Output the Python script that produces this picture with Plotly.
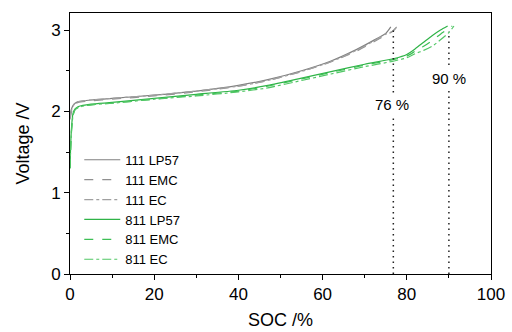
import plotly.graph_objects as go

soc_111_lp57 = [0, 0.3, 0.7, 1.2, 2, 5, 10, 20, 30, 40, 47, 55, 62, 68, 72, 75, 76.2]
v_111_lp57 = [1.95, 2.02, 2.07, 2.10, 2.12, 2.14, 2.16, 2.20, 2.25, 2.32, 2.39, 2.50, 2.62, 2.76, 2.87, 2.96, 3.04]
soc_111_emc = [0, 0.3, 0.7, 1.2, 2, 5, 10, 20, 30, 40, 47, 55, 62, 68, 72, 75, 76.5, 77.8]
v_111_emc = [1.90, 1.98, 2.05, 2.09, 2.11, 2.13, 2.15, 2.19, 2.24, 2.31, 2.38, 2.49, 2.61, 2.74, 2.85, 2.94, 2.98, 3.05]
soc_111_ec = [0, 0.3, 0.7, 1.2, 2, 5, 10, 20, 30, 40, 47, 55, 62, 68, 72, 75, 76.8, 77.6]
v_111_ec = [1.92, 2.0, 2.06, 2.10, 2.12, 2.14, 2.16, 2.20, 2.25, 2.31, 2.38, 2.49, 2.61, 2.75, 2.86, 2.95, 2.99, 3.04]

soc_811_lp57 = [0, 0.3, 0.7, 1.2, 2, 5, 10, 20, 30, 40, 47, 55, 62, 70, 77, 80, 82, 84, 86, 88, 89.7]
v_811_lp57 = [1.30, 1.75, 1.97, 2.03, 2.06, 2.09, 2.11, 2.16, 2.21, 2.26, 2.32, 2.41, 2.49, 2.58, 2.65, 2.70, 2.77, 2.85, 2.93, 3.00, 3.05]
soc_811_emc = [0, 0.3, 0.7, 1.2, 2, 5, 10, 20, 30, 40, 47, 55, 62, 70, 77, 80, 82, 84, 86, 88, 90, 90.8]
v_811_emc = [1.30, 1.72, 1.95, 2.02, 2.05, 2.08, 2.10, 2.15, 2.20, 2.25, 2.31, 2.40, 2.48, 2.57, 2.64, 2.68, 2.74, 2.80, 2.87, 2.95, 3.02, 3.05]
soc_811_ec = [0, 0.3, 0.7, 1.2, 2, 5, 10, 20, 30, 40, 47, 55, 62, 70, 77, 80, 82, 84, 86, 88, 90, 91.2]
v_811_ec = [1.30, 1.70, 1.94, 2.02, 2.05, 2.08, 2.10, 2.15, 2.19, 2.24, 2.29, 2.38, 2.46, 2.55, 2.62, 2.66, 2.71, 2.75, 2.80, 2.88, 2.97, 3.05]

marker_76_soc = [76.8, 76.8]
marker_76_v = [0, 3.0]
marker_90_soc = [90, 90]
marker_90_v = [0, 2.98]
labels = ["76 %", "90 %"]
label_soc = [76.5, 90]
label_v = [2.09, 2.41]

gray1, gray2, gray3 = "#808080", "#909090", "#a0a0a0"
green1, green2, green3 = "#2fb347", "#3dbf55", "#52c766"

fig = go.Figure()
series = [
    ("111 LP57", soc_111_lp57, v_111_lp57, gray1, "solid"),
    ("111 EMC", soc_111_emc, v_111_emc, gray2, "dash"),
    ("111 EC", soc_111_ec, v_111_ec, gray3, "dashdot"),
    ("811 LP57", soc_811_lp57, v_811_lp57, green1, "solid"),
    ("811 EMC", soc_811_emc, v_811_emc, green2, "dash"),
    ("811 EC", soc_811_ec, v_811_ec, green3, "dashdot"),
]
for name, x, y, c, d in series:
    fig.add_trace(go.Scatter(x=x, y=y, mode="lines", name=name,
                             line=dict(color=c, width=1.2, dash=d, shape="spline", smoothing=0.6)))

for x, y in [(marker_76_soc, marker_76_v), (marker_90_soc, marker_90_v)]:
    fig.add_trace(go.Scatter(x=x, y=y, mode="lines", showlegend=False,
                             line=dict(color="#222222", width=1.5, dash="1.5px,4px")))

for t, x, y in zip(labels, label_soc, label_v):
    fig.add_annotation(x=x, y=y, text=t, showarrow=False, bgcolor="white", borderpad=2,
                       font=dict(size=15, color="black", family="Liberation Sans"))

axis_common = dict(showline=True, linecolor="black", linewidth=1, mirror=True,
                   ticks="outside", ticklen=5, tickcolor="black", showgrid=False,
                   zeroline=False, automargin=False, tickfont=dict(size=17, color="black"))
fig.update_xaxes(range=[0, 100], dtick=20, title=dict(text="SOC /%", font=dict(size=18), standoff=9),
                 minor=dict(ticks="outside", ticklen=3, dtick=10, tickcolor="black"), **axis_common)
fig.update_yaxes(range=[0, 3.21], dtick=1, title=dict(text="Voltage /V", font=dict(size=18), standoff=16),
                 minor=dict(ticks="outside", ticklen=3, dtick=0.5, tickcolor="black"), **axis_common)

fig.update_layout(
    width=512, height=332,
    margin=dict(l=70, r=21, t=13, b=58),
    paper_bgcolor="white", plot_bgcolor="white",
    font=dict(family="Liberation Sans", color="black"),
    legend=dict(x=0.022, y=0.495, xanchor="left", yanchor="top", bgcolor="rgba(0,0,0,0)",
                font=dict(size=13), tracegroupgap=0, itemwidth=36),
)
fig.write_html("out.html")
